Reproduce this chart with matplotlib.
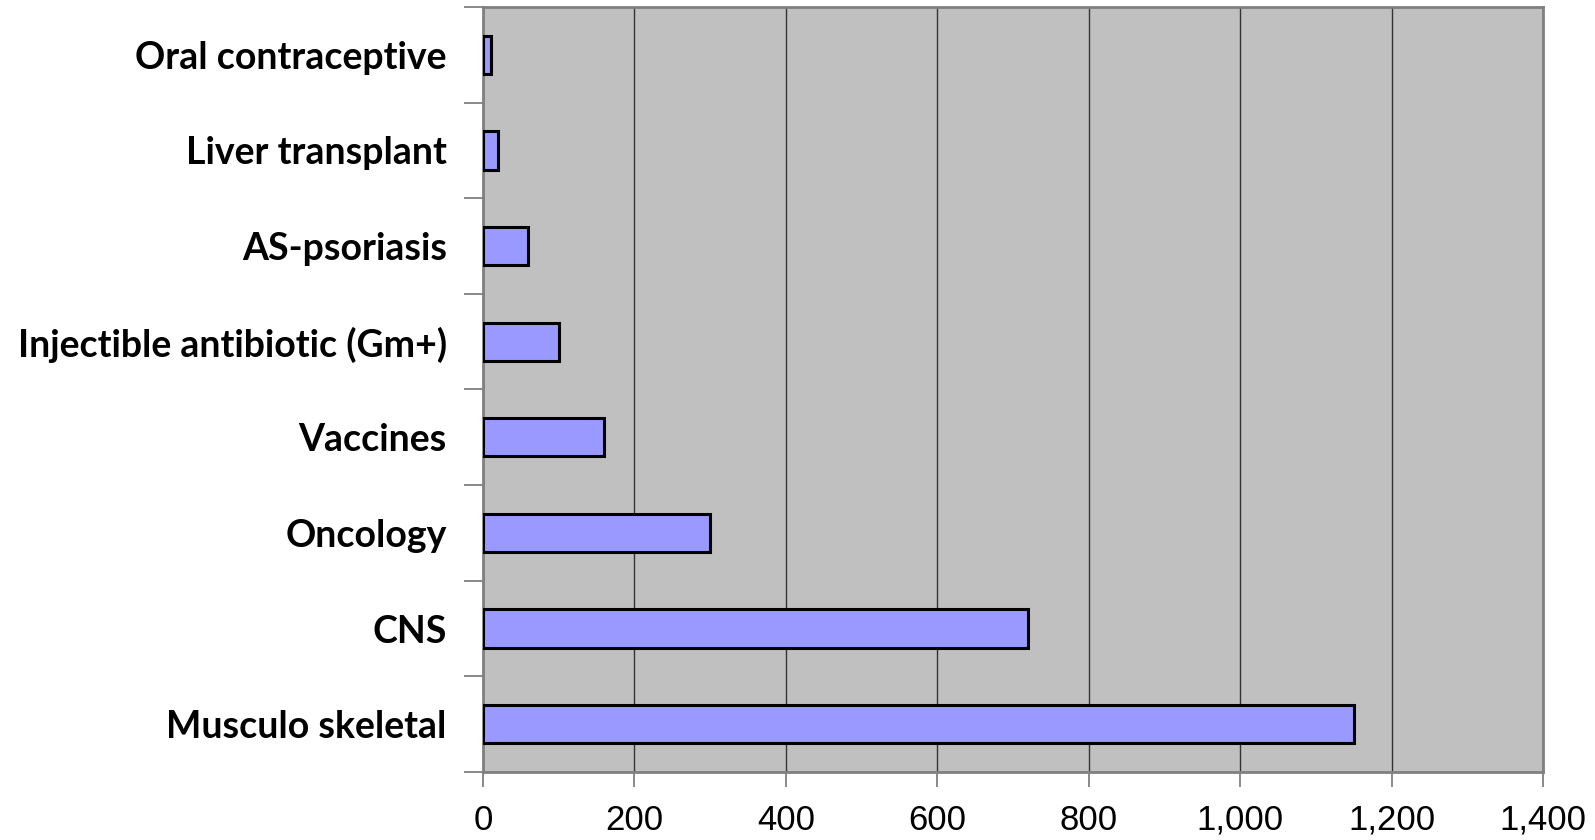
import matplotlib
matplotlib.use("Agg")
import matplotlib.pyplot as plt
from matplotlib.ticker import FuncFormatter, FixedLocator
import numpy as np

# categories listed bottom to top
categories = ["Musculo skeletal", "CNS", "Oncology", "Vaccines",
              "Injectible antibiotic (Gm+)", "AS-psoriasis",
              "Liver transplant", "Oral contraceptive"]
values = [1150, 720, 300, 160, 100, 60, 20, 10]
x_ticks = [0, 200, 400, 600, 800, 1000, 1200, 1400]

fig = plt.figure(figsize=(15.95, 8.4), dpi=100)
ax = fig.add_axes([0.3028, 0.081, 0.6646, 0.9107])
ax.set_facecolor('#C0C0C0')

y = np.arange(len(categories))
ax.barh(y, values, height=0.4, color='#9999FF', edgecolor='black',
        linewidth=2.2, zorder=3)

ax.set_xlim(0, 1400)
ax.set_ylim(-0.5, len(categories) - 0.5)

ax.set_xticks(x_ticks)
ax.xaxis.set_major_formatter(FuncFormatter(lambda v, p: "{:,}".format(int(v))))
ax.grid(axis='x', color='#333333', linewidth=1.0, zorder=1)
ax.set_axisbelow(True)

ax.set_yticks(y)
ax.set_yticklabels(categories, fontfamily='Lato', fontweight='bold', fontsize=27)
ax.yaxis.set_minor_locator(FixedLocator(np.arange(-0.5, len(categories), 1.0)))
ax.tick_params(axis='y', which='major', length=0, pad=26)
ax.tick_params(axis='y', which='minor', length=14, width=1.3, color='#808080')
ax.tick_params(axis='x', which='major', length=11, width=1.3, color='#808080',
               labelsize=25, pad=12)
for lab in ax.get_xticklabels():
    lab.set_fontfamily('Liberation Sans')

for side in ['left', 'bottom', 'top', 'right']:
    ax.spines[side].set_color('#808080')
    ax.spines[side].set_linewidth(2.0)

fig.savefig("out.png", dpi=100)
